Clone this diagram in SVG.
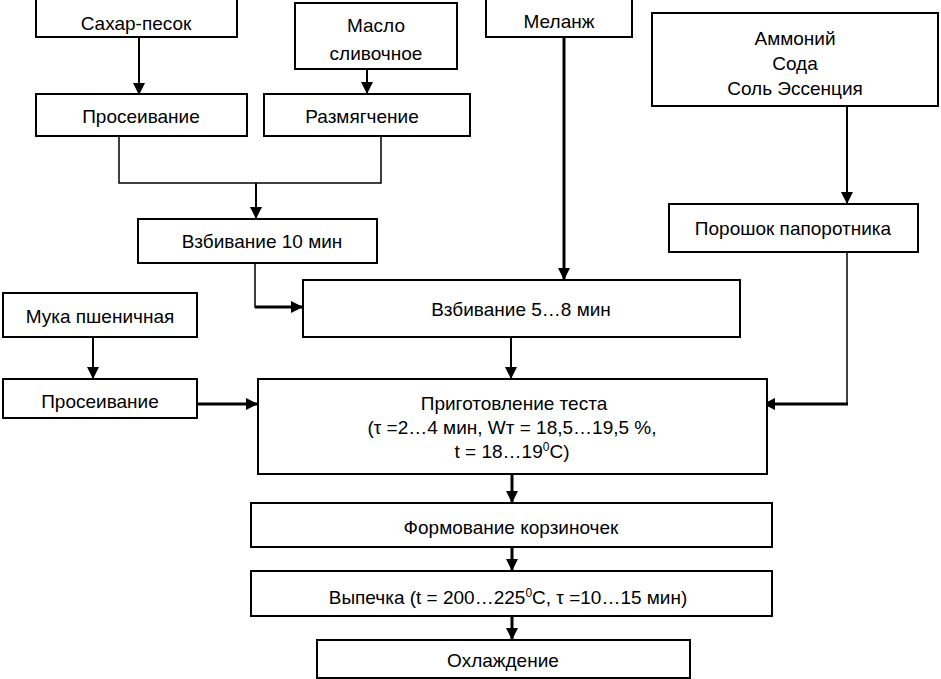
<svg xmlns="http://www.w3.org/2000/svg" width="941" height="679" viewBox="0 0 941 679">
<defs>
<style>
.b{fill:#fff;stroke:#000;stroke-width:2}
.t{font-family:"Liberation Sans",Arial,sans-serif;font-size:19px;fill:#000;text-anchor:middle}
.c1{fill:none;stroke:#000;stroke-width:1.5}
.c2{fill:none;stroke:#000;stroke-width:2}
.c3{fill:none;stroke:#000;stroke-width:3}
</style>
<marker id="a2" viewBox="0 0 10 10" refX="10" refY="5" markerWidth="14" markerHeight="12" markerUnits="userSpaceOnUse" orient="auto">
<path d="M0,0 L10,5 L0,10 z" fill="#000"/>
</marker>
</defs>
<rect width="941" height="679" fill="#fff"/>
<g id="connectors">
<path class="c2" d="M139,37 V95" marker-end="url(#a2)"/>
<path class="c2" d="M367,69 V94" marker-end="url(#a2)"/>
<path class="c1" d="M119,136 V183 H381 V136"/>
<path class="c2" d="M256,183 V219" marker-end="url(#a2)"/>
<path class="c1" d="M255,263 V307 H270"/>
<path class="c3" d="M255,307 H303" marker-end="url(#a2)"/>
<path class="c3" d="M564,37 V280" marker-end="url(#a2)"/>
<path class="c2" d="M847,106 V204" marker-end="url(#a2)"/>
<path class="c1" d="M847,252 V404"/>
<path class="c3" d="M848,404 H763" marker-end="url(#a2)"/>
<path class="c2" d="M511,337 V379" marker-end="url(#a2)"/>
<path class="c2" d="M93,337 V379" marker-end="url(#a2)"/>
<path class="c3" d="M197,404 H258" marker-end="url(#a2)"/>
<path class="c3" d="M512,474 V503" marker-end="url(#a2)"/>
<path class="c3" d="M512,547 V571" marker-end="url(#a2)"/>
<path class="c3" d="M512,616 V640" marker-end="url(#a2)"/>
</g>
<g id="n1"><rect class="b" x="36" y="-1" width="201" height="38"/><text class="t" x="136" y="30">Сахар-песок</text></g>
<g id="n2"><rect class="b" x="295" y="3" width="162" height="66"/><text class="t" x="376" y="32">Масло</text><text class="t" x="376" y="60">сливочное</text></g>
<g id="n3"><rect class="b" x="486" y="-1" width="146" height="38"/><text class="t" x="559" y="28">Меланж</text></g>
<g id="n4"><rect class="b" x="652" y="13" width="286" height="93"/><text class="t" x="795" y="45">Аммоний</text><text class="t" x="795" y="70">Сода</text><text class="t" x="795" y="95">Соль Эссенция</text></g>
<g id="n5"><rect class="b" x="36" y="94" width="211" height="42"/><text class="t" x="141" y="123">Просеивание</text></g>
<g id="n6"><rect class="b" x="264" y="94" width="206" height="42"/><text class="t" x="362" y="123">Размягчение</text></g>
<g id="n7"><rect class="b" x="138" y="219" width="239" height="44"/><text class="t" x="262" y="248">Взбивание 10 мин</text></g>
<g id="n8"><rect class="b" x="669" y="204" width="249" height="48"/><text class="t" x="793" y="235">Порошок папоротника</text></g>
<g id="n9"><rect class="b" x="303" y="280" width="437" height="57"/><text class="t" x="521" y="316">Взбивание 5…8 мин</text></g>
<g id="n10"><rect class="b" x="3" y="293" width="194" height="44"/><text class="t" x="100" y="323">Мука пшеничная</text></g>
<g id="n11"><rect class="b" x="3" y="379" width="194" height="39"/><text class="t" x="100" y="408">Просеивание</text></g>
<g id="n12"><rect class="b" x="258" y="379" width="509" height="95"/><text class="t" x="514" y="410">Приготовление теста</text><text class="t" x="512" y="434">(τ =2…4 мин, Wт = 18,5…19,5 %,</text><text class="t" x="512" y="458">t = 18…19<tspan font-size="12" dy="-7">0</tspan><tspan dy="7">С)</tspan></text></g>
<g id="n13"><rect class="b" x="251" y="503" width="521" height="44"/><text class="t" x="511" y="534">Формование корзиночек</text></g>
<g id="n14"><rect class="b" x="251" y="571" width="521" height="45"/><text class="t" x="508" y="604">Выпечка (t = 200…225<tspan font-size="12" dy="-7">0</tspan><tspan dy="7">С, τ =10…15 мин)</tspan></text></g>
<g id="n15"><rect class="b" x="317" y="640" width="373" height="38"/><text class="t" x="503" y="667">Охлаждение</text></g>
</svg>
